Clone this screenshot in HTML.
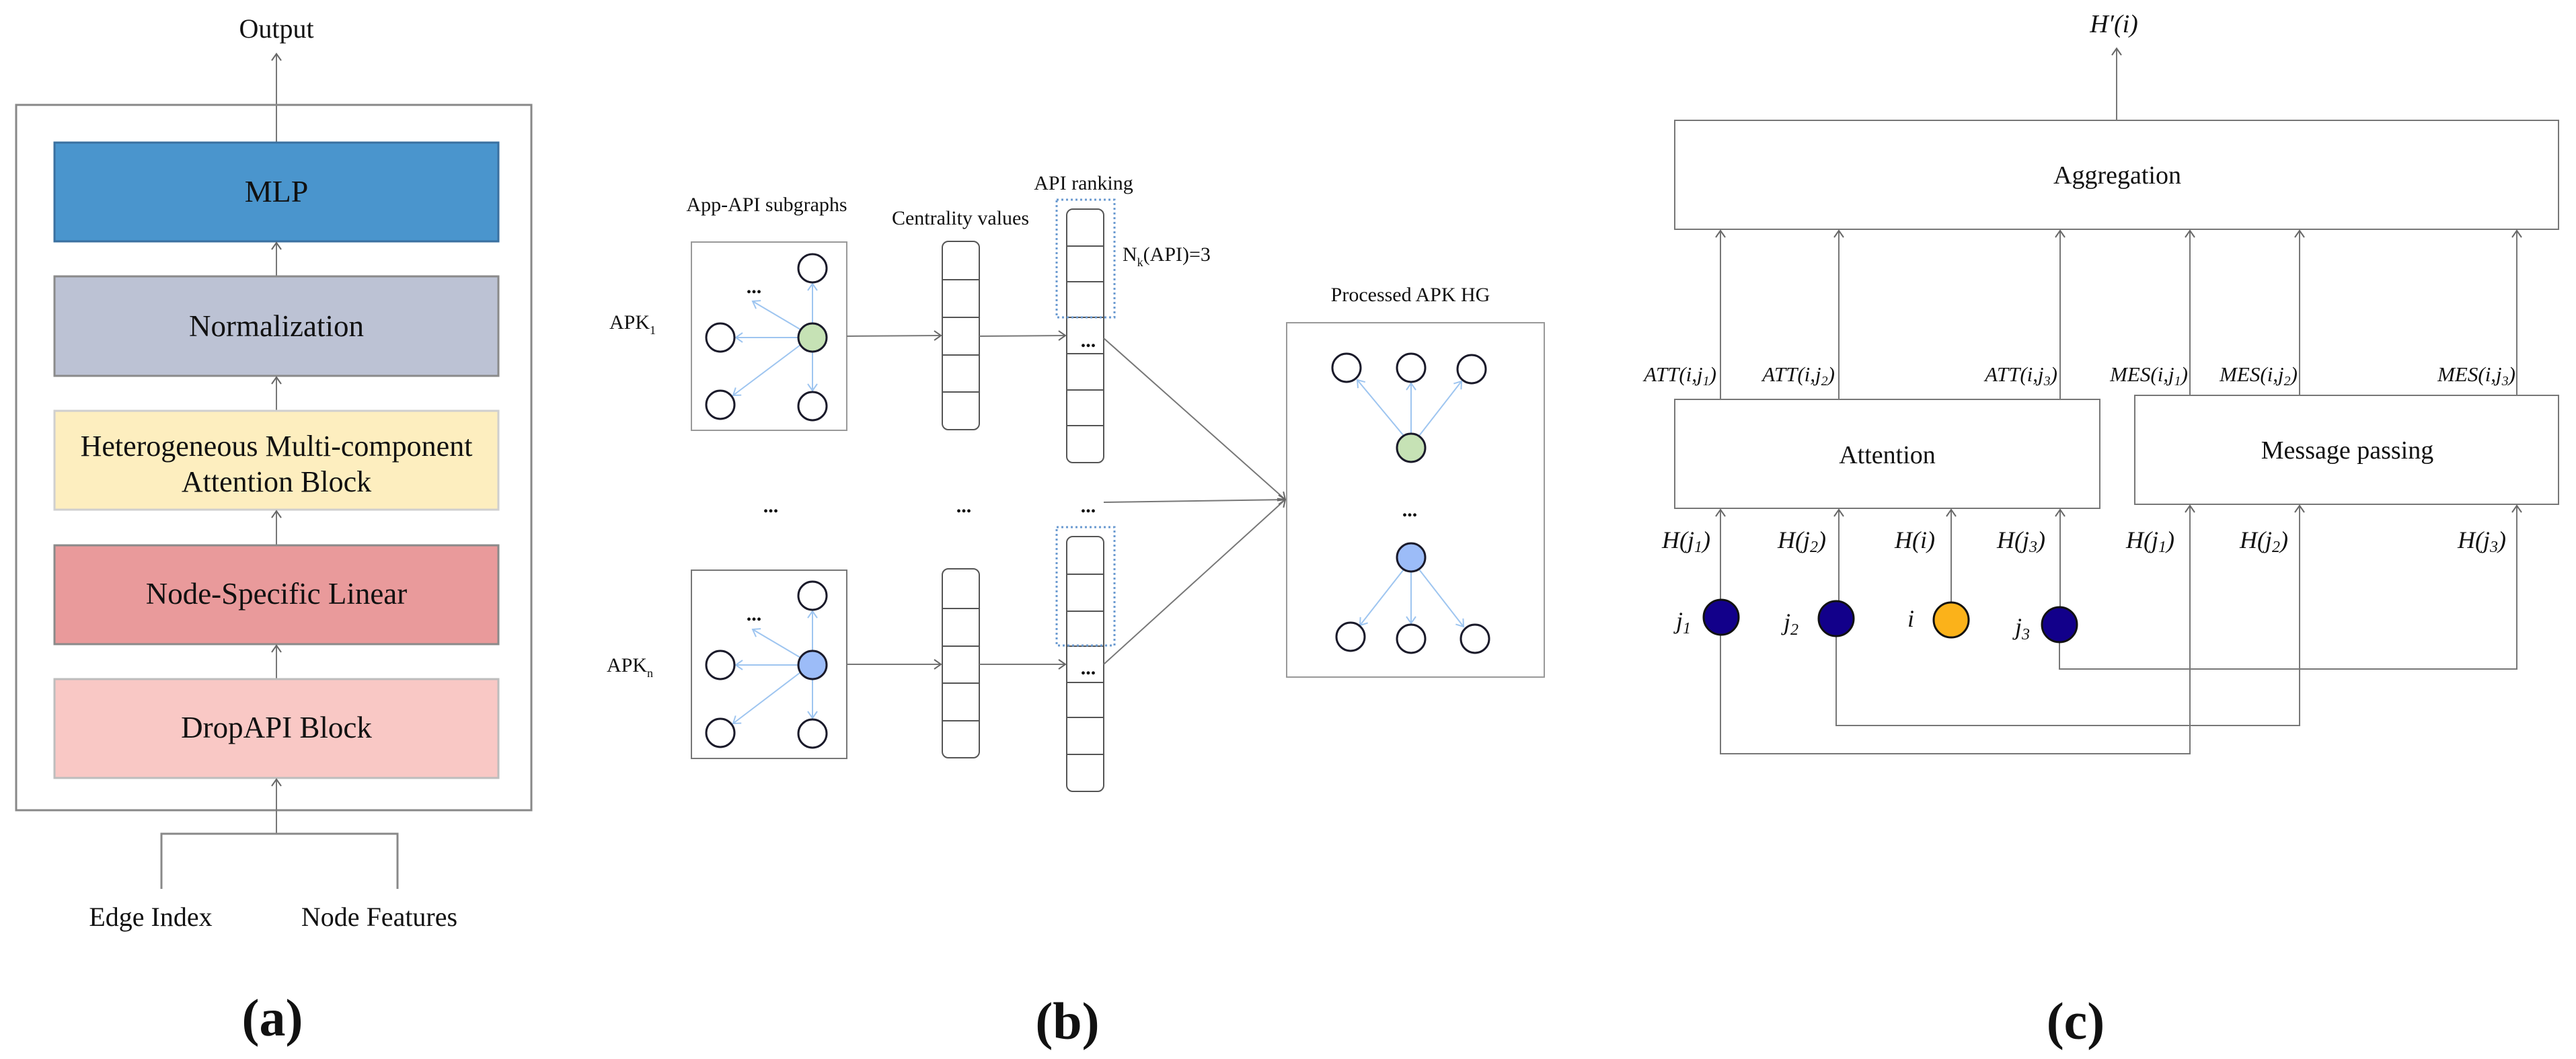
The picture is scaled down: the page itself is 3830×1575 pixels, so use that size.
<!DOCTYPE html>
<html><head><meta charset="utf-8"><style>
html,body{margin:0;padding:0;background:#fff;}
svg{display:block;}
text{font-family:"Liberation Serif",serif;fill:#111;}
.it{font-style:italic;}
</style></head><body>
<svg width="3830" height="1575" viewBox="0 0 3830 1575" xmlns="http://www.w3.org/2000/svg">
<defs>
<marker id="ar" markerUnits="userSpaceOnUse" markerWidth="24" markerHeight="24" refX="12" refY="12" orient="auto">
<path d="M2,5 L12,12 L2,19" fill="none" stroke="#666" stroke-width="2"/></marker>
<marker id="ab" markerUnits="userSpaceOnUse" markerWidth="24" markerHeight="24" refX="12" refY="12" orient="auto">
<path d="M2,5 L12,12 L2,19" fill="none" stroke="#9ec5f0" stroke-width="2"/></marker>
</defs>

<!-- ===== Panel (a) ===== -->
<text x="411" y="56" font-size="40" text-anchor="middle">Output</text>
<line x1="411" y1="212" x2="411" y2="80" stroke="#777" stroke-width="2" marker-end="url(#ar)"/>
<rect x="24" y="156" width="766" height="1049" fill="none" stroke="#888" stroke-width="3"/>
<rect x="81" y="212" width="660" height="147" fill="#4a95cd" stroke="#3a70a0" stroke-width="3"/>
<text x="411" y="300" font-size="46" text-anchor="middle">MLP</text>
<line x1="411" y1="411" x2="411" y2="361" stroke="#777" stroke-width="2" marker-end="url(#ar)"/>
<rect x="81" y="411" width="660" height="148" fill="#bcc2d4" stroke="#8a8a8a" stroke-width="3"/>
<text x="411" y="500" font-size="45" text-anchor="middle">Normalization</text>
<line x1="411" y1="611" x2="411" y2="561" stroke="#777" stroke-width="2" marker-end="url(#ar)"/>
<rect x="81" y="611" width="660" height="147" fill="#fdeebf" stroke="#cfcfcf" stroke-width="3"/>
<text x="411" y="678" font-size="44" text-anchor="middle">Heterogeneous Multi-component</text>
<text x="411" y="731" font-size="44" text-anchor="middle">Attention Block</text>
<line x1="411" y1="811" x2="411" y2="760" stroke="#777" stroke-width="2" marker-end="url(#ar)"/>
<rect x="81" y="811" width="660" height="147" fill="#e99a9b" stroke="#8a8a8a" stroke-width="3"/>
<text x="411" y="898" font-size="45" text-anchor="middle">Node-Specific Linear</text>
<line x1="411" y1="1010" x2="411" y2="960" stroke="#777" stroke-width="2" marker-end="url(#ar)"/>
<rect x="81" y="1010" width="660" height="147" fill="#f9c8c5" stroke="#bdbdbd" stroke-width="3"/>
<text x="411" y="1097" font-size="45" text-anchor="middle">DropAPI Block</text>
<line x1="411" y1="1240" x2="411" y2="1159" stroke="#777" stroke-width="2" marker-end="url(#ar)"/>
<polyline points="240,1322 240,1240 591,1240 591,1322" fill="none" stroke="#888" stroke-width="3"/>
<text x="224" y="1377" font-size="40" text-anchor="middle">Edge Index</text>
<text x="564" y="1377" font-size="40" text-anchor="middle">Node Features</text>
<text x="405" y="1540" font-size="78" font-weight="bold" text-anchor="middle">(a)</text>

<!-- ===== Panel (b) ===== -->
<text x="1140" y="314" font-size="30" text-anchor="middle">App-API subgraphs</text>
<text x="1428" y="334" font-size="30" text-anchor="middle">Centrality values</text>
<text x="1611" y="282" font-size="30" text-anchor="middle">API ranking</text>
<text x="1669" y="388" font-size="30">N<tspan font-size="18" dy="8">k</tspan><tspan dy="-8">(API)=3</tspan></text>
<text x="2097" y="448" font-size="30" text-anchor="middle">Processed APK HG</text>
<text x="906" y="489" font-size="30">APK<tspan font-size="18" dy="8">1</tspan></text>
<text x="902" y="999" font-size="30">APK<tspan font-size="18" dy="8">n</tspan></text>

<rect x="1028" y="360" width="231" height="280" fill="none" stroke="#999" stroke-width="2"/>
<g stroke="#9ec5f0" stroke-width="2" fill="none">
<line x1="1208" y1="481" x2="1208" y2="422" marker-end="url(#ab)"/>
<line x1="1187" y1="502" x2="1094" y2="502" marker-end="url(#ab)"/>
<line x1="1190" y1="490" x2="1119" y2="448" marker-end="url(#ab)"/>
<line x1="1190" y1="513" x2="1090" y2="588" marker-end="url(#ab)"/>
<line x1="1208" y1="523" x2="1208" y2="581" marker-end="url(#ab)"/>
</g>
<g stroke="#1a1a2a" stroke-width="3" fill="#fff">
<circle cx="1208" cy="399" r="21"/><circle cx="1071" cy="502" r="21"/>
<circle cx="1071" cy="602" r="21"/><circle cx="1208" cy="604" r="21"/>
<circle cx="1208" cy="502" r="21" fill="#c6e2b5"/>
</g>
<text x="1121" y="436" font-size="30" text-anchor="middle" font-weight="bold">...</text>

<rect x="1028" y="848" width="231" height="280" fill="none" stroke="#777" stroke-width="2"/>
<g stroke="#9ec5f0" stroke-width="2" fill="none">
<line x1="1208" y1="968" x2="1208" y2="909" marker-end="url(#ab)"/>
<line x1="1187" y1="989" x2="1094" y2="989" marker-end="url(#ab)"/>
<line x1="1190" y1="978" x2="1119" y2="936" marker-end="url(#ab)"/>
<line x1="1190" y1="1000" x2="1090" y2="1076" marker-end="url(#ab)"/>
<line x1="1208" y1="1010" x2="1208" y2="1068" marker-end="url(#ab)"/>
</g>
<g stroke="#1a1a2a" stroke-width="3" fill="#fff">
<circle cx="1208" cy="886" r="21"/><circle cx="1071" cy="989" r="21"/>
<circle cx="1071" cy="1090" r="21"/><circle cx="1208" cy="1091" r="21"/>
<circle cx="1208" cy="989" r="21" fill="#9cbcf8"/>
</g>
<text x="1121" y="923" font-size="30" text-anchor="middle" font-weight="bold">...</text>

<g stroke="#555" stroke-width="2" fill="none">
<rect x="1401" y="359" width="55" height="280" rx="9"/>
<line x1="1401" y1="416" x2="1456" y2="416"/><line x1="1401" y1="472" x2="1456" y2="472"/>
<line x1="1401" y1="528" x2="1456" y2="528"/><line x1="1401" y1="583" x2="1456" y2="583"/>
<rect x="1401" y="846" width="55" height="281" rx="9"/>
<line x1="1401" y1="905" x2="1456" y2="905"/><line x1="1401" y1="961" x2="1456" y2="961"/>
<line x1="1401" y1="1016" x2="1456" y2="1016"/><line x1="1401" y1="1072" x2="1456" y2="1072"/>
<rect x="1586" y="311" width="55" height="377" rx="9"/>
<line x1="1586" y1="366" x2="1641" y2="366"/><line x1="1586" y1="419" x2="1641" y2="419"/>
<line x1="1586" y1="472" x2="1641" y2="472"/><line x1="1586" y1="526" x2="1641" y2="526"/>
<line x1="1586" y1="580" x2="1641" y2="580"/><line x1="1586" y1="633" x2="1641" y2="633"/>
<rect x="1586" y="798" width="55" height="379" rx="9"/>
<line x1="1586" y1="854" x2="1641" y2="854"/><line x1="1586" y1="909" x2="1641" y2="909"/>
<line x1="1586" y1="961" x2="1641" y2="961"/><line x1="1586" y1="1015" x2="1641" y2="1015"/>
<line x1="1586" y1="1067" x2="1641" y2="1067"/><line x1="1586" y1="1122" x2="1641" y2="1122"/>
</g>
<rect x="1571" y="297" width="86" height="175" fill="none" stroke="#6a9ad0" stroke-width="3" stroke-dasharray="3,4"/>
<rect x="1571" y="784" width="86" height="176" fill="none" stroke="#6a9ad0" stroke-width="3" stroke-dasharray="3,4"/>
<text x="1618" y="516" font-size="30" text-anchor="middle" font-weight="bold">...</text>
<text x="1618" y="1003" font-size="30" text-anchor="middle" font-weight="bold">...</text>
<text x="1146" y="762" font-size="30" text-anchor="middle" font-weight="bold">...</text>
<text x="1433" y="762" font-size="30" text-anchor="middle" font-weight="bold">...</text>
<text x="1618" y="762" font-size="30" text-anchor="middle" font-weight="bold">...</text>

<g stroke="#777" stroke-width="2" fill="none">
<line x1="1259" y1="500" x2="1399" y2="499" marker-end="url(#ar)"/>
<line x1="1456" y1="500" x2="1584" y2="499" marker-end="url(#ar)"/>
<line x1="1259" y1="988" x2="1399" y2="988" marker-end="url(#ar)"/>
<line x1="1456" y1="988" x2="1584" y2="988" marker-end="url(#ar)"/>
<line x1="1641" y1="503" x2="1911" y2="743" marker-end="url(#ar)"/>
<line x1="1641" y1="747" x2="1911" y2="743" marker-end="url(#ar)"/>
<line x1="1641" y1="988" x2="1911" y2="743" marker-end="url(#ar)"/>
</g>

<rect x="1913" y="480" width="383" height="527" fill="none" stroke="#999" stroke-width="2"/>
<g stroke="#9ec5f0" stroke-width="2" fill="none">
<line x1="2087" y1="648" x2="2018" y2="565" marker-end="url(#ab)"/>
<line x1="2098" y1="645" x2="2098" y2="570" marker-end="url(#ab)"/>
<line x1="2110" y1="648" x2="2173" y2="567" marker-end="url(#ab)"/>
<line x1="2087" y1="847" x2="2022" y2="930" marker-end="url(#ab)"/>
<line x1="2098" y1="850" x2="2098" y2="927" marker-end="url(#ab)"/>
<line x1="2110" y1="847" x2="2176" y2="932" marker-end="url(#ab)"/>
</g>
<g stroke="#1a1a2a" stroke-width="3" fill="#fff">
<circle cx="2002" cy="547" r="21"/><circle cx="2098" cy="547" r="21"/><circle cx="2188" cy="549" r="21"/>
<circle cx="2098" cy="666" r="21" fill="#c6e2b5"/>
<circle cx="2098" cy="829" r="21" fill="#9cbcf8"/>
<circle cx="2008" cy="947" r="21"/><circle cx="2098" cy="950" r="21"/><circle cx="2193" cy="950" r="21"/>
</g>
<text x="2096" y="768" font-size="30" text-anchor="middle" font-weight="bold">...</text>
<text x="1587" y="1545" font-size="78" font-weight="bold" text-anchor="middle">(b)</text>

<!-- ===== Panel (c) ===== -->
<text x="3143" y="48" font-size="38" text-anchor="middle" class="it">H′(i)</text>
<g stroke="#777" stroke-width="2" fill="none">
<line x1="3147" y1="179" x2="3147" y2="72" marker-end="url(#ar)"/>
<rect x="2490" y="179" width="1314" height="162"/>
<rect x="2490" y="594" width="632" height="162"/>
<rect x="3174" y="588" width="630" height="162"/>
<line x1="2558" y1="594" x2="2558" y2="343" marker-end="url(#ar)"/>
<line x1="2734" y1="594" x2="2734" y2="343" marker-end="url(#ar)"/>
<line x1="3063" y1="594" x2="3063" y2="343" marker-end="url(#ar)"/>
<line x1="3256" y1="588" x2="3256" y2="343" marker-end="url(#ar)"/>
<line x1="3419" y1="588" x2="3419" y2="343" marker-end="url(#ar)"/>
<line x1="3742" y1="588" x2="3742" y2="343" marker-end="url(#ar)"/>
<line x1="2558" y1="891" x2="2558" y2="758" marker-end="url(#ar)"/>
<line x1="2734" y1="893" x2="2734" y2="758" marker-end="url(#ar)"/>
<line x1="2901" y1="895" x2="2901" y2="758" marker-end="url(#ar)"/>
<line x1="3063" y1="902" x2="3063" y2="758" marker-end="url(#ar)"/>
<polyline points="2558,945 2558,1121 3256,1121 3256,752" marker-end="url(#ar)"/>
<polyline points="2730,947 2730,1079 3419,1079 3419,752" marker-end="url(#ar)"/>
<polyline points="3062,956 3062,995 3742,995 3742,752" marker-end="url(#ar)"/>
</g>
<text x="3148" y="273" font-size="38" text-anchor="middle">Aggregation</text>
<text x="2806" y="689" font-size="38" text-anchor="middle">Attention</text>
<text x="3490" y="682" font-size="38" text-anchor="middle">Message passing</text>
<g font-size="31" class="it" text-anchor="end">
<text x="2552" y="567" class="it">ATT(i,j<tspan font-size="20" dy="6">1</tspan><tspan dy="-6">)</tspan></text>
<text x="2728" y="567" class="it">ATT(i,j<tspan font-size="20" dy="6">2</tspan><tspan dy="-6">)</tspan></text>
<text x="3059" y="567" class="it">ATT(i,j<tspan font-size="20" dy="6">3</tspan><tspan dy="-6">)</tspan></text>
<text x="3253" y="567" class="it">MES(i,j<tspan font-size="20" dy="6">1</tspan><tspan dy="-6">)</tspan></text>
<text x="3416" y="567" class="it">MES(i,j<tspan font-size="20" dy="6">2</tspan><tspan dy="-6">)</tspan></text>
<text x="3740" y="567" class="it">MES(i,j<tspan font-size="20" dy="6">3</tspan><tspan dy="-6">)</tspan></text>
</g>
<g font-size="36" text-anchor="end">
<text x="2543" y="815" class="it">H(j<tspan font-size="24" dy="6">1</tspan><tspan dy="-6">)</tspan></text>
<text x="2715" y="815" class="it">H(j<tspan font-size="24" dy="6">2</tspan><tspan dy="-6">)</tspan></text>
<text x="2877" y="815" class="it">H(i)</text>
<text x="3041" y="815" class="it">H(j<tspan font-size="24" dy="6">3</tspan><tspan dy="-6">)</tspan></text>
<text x="3233" y="815" class="it">H(j<tspan font-size="24" dy="6">1</tspan><tspan dy="-6">)</tspan></text>
<text x="3402" y="815" class="it">H(j<tspan font-size="24" dy="6">2</tspan><tspan dy="-6">)</tspan></text>
<text x="3726" y="815" class="it">H(j<tspan font-size="24" dy="6">3</tspan><tspan dy="-6">)</tspan></text>
<text x="2514" y="935" class="it">j<tspan font-size="24" dy="7">1</tspan></text>
<text x="2674" y="937" class="it">j<tspan font-size="24" dy="7">2</tspan></text>
<text x="2846" y="932" class="it">i</text>
<text x="3018" y="944" class="it">j<tspan font-size="24" dy="7">3</tspan></text>
</g>
<g stroke="#111" stroke-width="3">
<circle cx="2559" cy="918" r="26" fill="#12008a"/>
<circle cx="2730" cy="920" r="26" fill="#12008a"/>
<circle cx="2901" cy="922" r="26" fill="#fbb21a"/>
<circle cx="3062" cy="929" r="26" fill="#12008a"/>
</g>
<text x="3086" y="1545" font-size="78" font-weight="bold" text-anchor="middle">(c)</text>
</svg>
</body></html>
